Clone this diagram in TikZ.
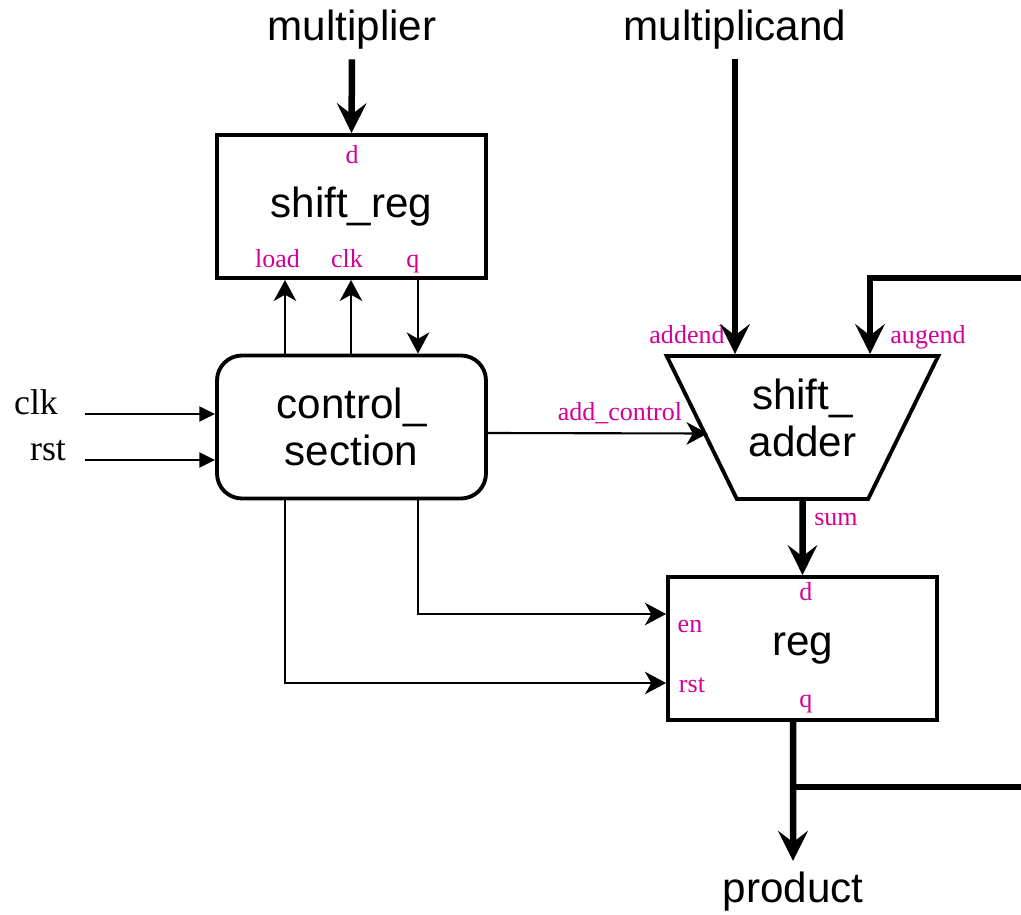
\documentclass[tikz,border=0pt]{standalone}
\usepackage{fontspec}
\setmainfont{Liberation Serif}
\setsansfont{Liberation Sans}
\usepackage{tikz}
\usetikzlibrary{positioning,arrows.meta,calc,shapes.geometric}
\definecolor{pinmag}{RGB}{210,0,150}

\begin{document}
\begin{tikzpicture}[>=Stealth,
    block/.style={draw, line width=1.1pt, minimum width=2.69cm, minimum height=1.43cm,
                  align=center, font=\sffamily\fontsize{12}{13.5}\selectfont},
    pinlbl/.style={anchor=base, inner sep=0pt, text=pinmag, font=\fontsize{7.4}{8}\selectfont},
    sig/.style={anchor=base, inner sep=0pt, outer sep=3pt, font=\sffamily\fontsize{12}{14}\selectfont},
    inlbl/.style={anchor=base, inner sep=0pt, font=\fontsize{10.2}{12}\selectfont},
    bus/.style={line width=1.85pt, -{Stealth[length=8.5pt,width=8.4pt,inset=3.2pt]}},
    busline/.style={line width=1.85pt},
    wire/.style={line width=0.6pt, -{Stealth[length=6pt,width=6.4pt,inset=1.8pt]}},
    inwire/.style={line width=0.75pt, -{Triangle[length=4.5pt,width=4.2pt]}}]
  \useasboundingbox (0,0) rectangle (10.21,9.14);

  % blocks
  \node[block] (sreg) at (3.515,7.075) {shift\_reg};
  \node[block, rounded corners=0.25cm] (ctrl) at (3.515,4.87) {control\_\\section};
  \node[block, trapezium, shape border rotate=180, trapezium stretches=true,
        trapezium left angle=60, trapezium right angle=60, text depth=2mm]
      (adder) at (8.025,4.865) {shift\_\\adder};
  \node[block] (reg) at (8.025,2.655) {reg};

  % outside signals
  \node[sig] (mplier) at (3.52,8.74) {multiplier};
  \node[sig] (mcand) at (7.35,8.74) {multiplicand};
  \node[sig] (prod) at (7.93,0.12) {product};
  \node[inlbl] (clklbl) at (0.36,5.0) {clk};
  \node[inlbl] (rstlbl) at (0.48,4.54) {rst};
  \coordinate (clkin) at (0.85,5.0);
  \coordinate (rstin) at (0.85,4.54);
  \coordinate (fbtop) at (10.21,6.36);
  \coordinate (tap) at (7.93,1.27);
  \coordinate (fbout) at (10.21,1.27);

  % columns of the control wires
  \coordinate (xload) at (2.85,0);
  \coordinate (xclk) at (3.51,0);
  \coordinate (xq) at (4.18,0);

  % port names
  \node[pinlbl] at (3.52,7.51) {d};
  \node[pinlbl] at (2.775,6.46) {load};
  \node[pinlbl] at (3.47,6.46) {clk};
  \node[pinlbl] at (4.13,6.46) {q};
  \node[pinlbl] at (6.87,5.71) {addend};
  \node[pinlbl] at (9.28,5.71) {augend};
  \node[pinlbl] at (6.20,4.94) {add\_control};
  \node[pinlbl] at (8.36,3.89) {sum};
  \node[pinlbl] at (8.06,3.14) {d};
  \node[pinlbl] at (6.90,2.82) {en};
  \node[pinlbl] at (6.92,2.22) {rst};
  \node[pinlbl] at (8.06,2.07) {q};

  % data buses
  \draw[bus] (mplier.south) -- (sreg.north);
  \draw[bus] (mcand.south) -- (mcand.south |- adder.north);
  \draw[bus] (fbtop) -| ([xshift=6.75mm]adder.north);
  \draw[bus] (adder.south) -- (reg.north);
  \draw[bus] ([xshift=-0.95mm]reg.south) -- (prod.north);
  \draw[busline] (tap) -- (fbout);

  % control wires
  \draw[inwire] (clkin) -- (clkin -| ctrl.west);
  \draw[inwire] (rstin) -- (rstin -| ctrl.west);
  \draw[wire] (xload |- ctrl.north) -- (xload |- sreg.south);
  \draw[wire] (xclk |- ctrl.north) -- (xclk |- sreg.south);
  \draw[wire] (xq |- sreg.south) -- (xq |- ctrl.north);
  \draw[wire] ([yshift=-0.6mm]ctrl.east) -- ([xshift=0.8mm,yshift=-0.6mm]adder.west);
  \draw[wire] (xq |- ctrl.south) |- ([yshift=3.45mm]reg.west);
  \draw[wire] (xload |- ctrl.south) |- ([yshift=-3.45mm]reg.west);
\end{tikzpicture}
\end{document}
